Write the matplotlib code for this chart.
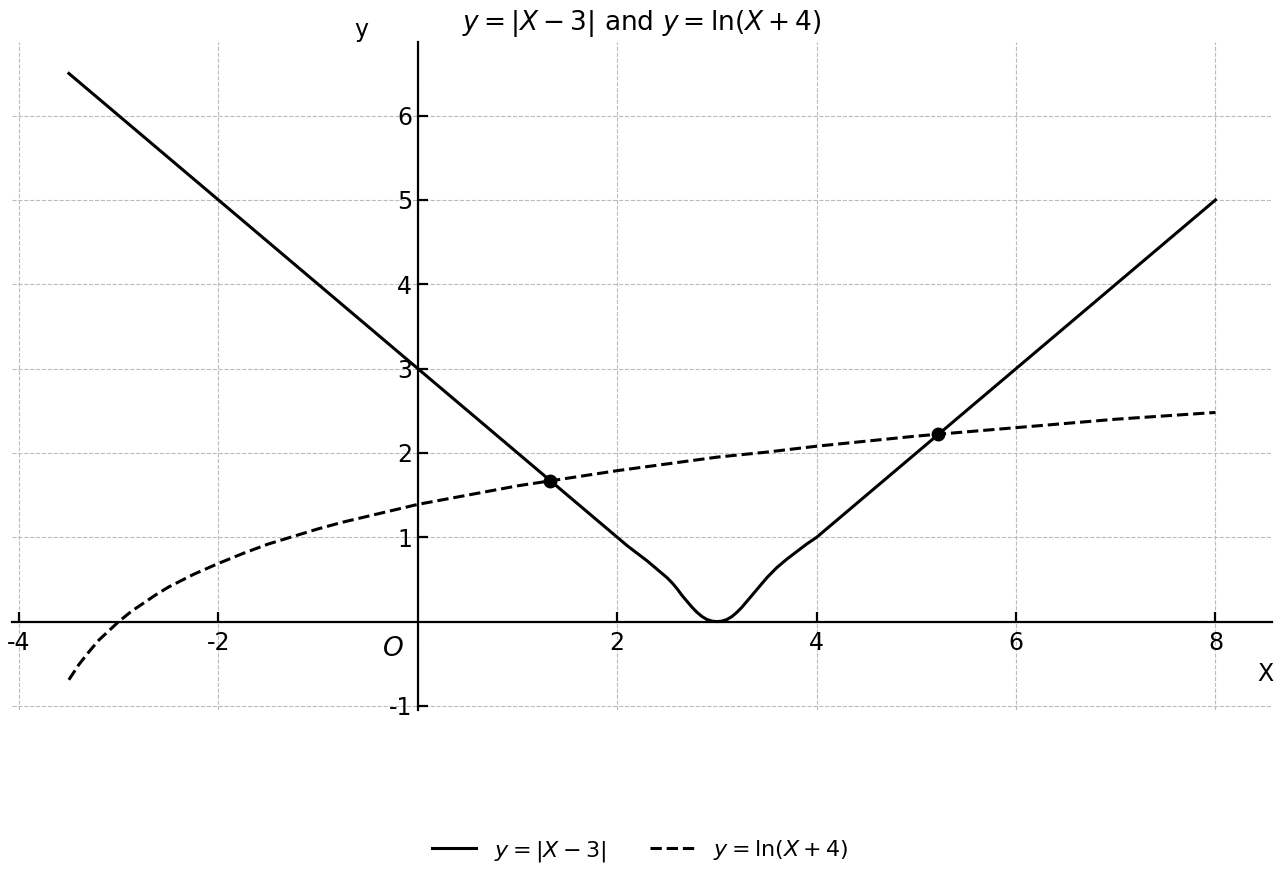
import matplotlib.pyplot as plt

# |X-3| (dense points around the rounded vertex)
abs_x = [-3.5, 1.5, 2.0, 2.1, 2.2, 2.3, 2.4, 2.5, 2.55, 2.6, 2.65, 2.7, 2.75, 2.8, 2.85,
         2.9, 2.95, 3.0, 3.05, 3.1, 3.15, 3.2, 3.25, 3.3, 3.35, 3.4, 3.45, 3.5, 3.6,
         3.7, 3.8, 3.9, 4.0, 8.0]
abs_y = [6.5, 1.5, 1.0, 0.90, 0.81, 0.72, 0.62, 0.52, 0.46, 0.39, 0.31, 0.24, 0.17, 0.11, 0.06,
         0.025, 0.006, 0.0, 0.006, 0.025, 0.06, 0.11, 0.17, 0.24, 0.31, 0.38, 0.45, 0.52, 0.64,
         0.74, 0.83, 0.92, 1.0, 5.0]

# ln(X+4)
ln_x = [-3.5, -3.45, -3.4, -3.3, -3.2, -3.1, -3.0, -2.875, -2.75, -2.625, -2.5, -2.25,
        -2.0, -1.75, -1.5, -1.25, -1.0, -0.75, -0.5, -0.25, 0.0, 0.5, 1.0, 1.5, 2.0,
        2.5, 3.0, 3.5, 4.0, 5.0, 6.0, 7.0, 8.0]
ln_y = [-0.69, -0.60, -0.51, -0.36, -0.22, -0.11, 0.0, 0.12, 0.22, 0.32, 0.41, 0.56,
        0.69, 0.81, 0.92, 1.01, 1.10, 1.18, 1.25, 1.32, 1.39, 1.50, 1.61, 1.70, 1.79,
        1.87, 1.95, 2.01, 2.08, 2.20, 2.30, 2.40, 2.48]

# intersection points
pts_x = [1.33, 5.22]
pts_y = [1.67, 2.22]

x_ticks = [-4, -2, 2, 4, 6, 8]
y_ticks = [-1, 1, 2, 3, 4, 5, 6]

fig = plt.figure(figsize=(12.8, 8.8), dpi=100)
ax = fig.add_axes([0.0094, 0.193, 0.9846, 0.759])

ax.plot(abs_x, abs_y, color='black', lw=2.2, label=r'$y = |X - 3|$')
ax.plot(ln_x, ln_y, color='black', lw=2.2, ls='--', label=r'$y = \ln(X + 4)$')
ax.plot(pts_x, pts_y, 'o', color='black', ms=9, zorder=5)

ax.set_xlim(-4.07, 8.57)
ax.set_ylim(-1.05, 6.87)

# axes through the origin
ax.spines['left'].set_position(('data', 0))
ax.spines['bottom'].set_position(('data', 0))
ax.spines['right'].set_visible(False)
ax.spines['top'].set_visible(False)
ax.spines['left'].set_linewidth(1.6)
ax.spines['bottom'].set_linewidth(1.6)

ax.set_xticks(x_ticks)
ax.set_xticklabels([str(v) for v in x_ticks])
ax.set_yticks(y_ticks)
ax.set_yticklabels([str(v) for v in y_ticks])
ax.tick_params(direction='in', length=7, width=1.6, labelsize=17)
ax.tick_params(axis='x', pad=7)
ax.tick_params(axis='y', pad=4)

# grid incl. the 0 lines
for v in [-4, -2, 0, 2, 4, 6, 8]:
    ax.axvline(v, color='#bbbbbb', ls='--', lw=0.8, zorder=0)
for v in [-1, 0, 1, 2, 3, 4, 5, 6]:
    ax.axhline(v, color='#bbbbbb', ls='--', lw=0.8, zorder=0)

ax.text(-0.25, -0.32, r'$O$', fontsize=19, ha='center', va='center')
ax.text(-0.57, 7.01, 'y', fontsize=17, ha='center', va='center', clip_on=False)
ax.text(8.5, -0.62, 'X', fontsize=17, ha='center', va='center')

ax.set_title(r'$y = |X - 3|$ and $y = \ln(X + 4)$', fontsize=19, pad=9)

fig.legend(loc='center', bbox_to_anchor=(0.5, 0.033), ncol=2, frameon=False,
           fontsize=16, handlelength=2.0, columnspacing=2.0)

fig.savefig('out.png', dpi=100)
